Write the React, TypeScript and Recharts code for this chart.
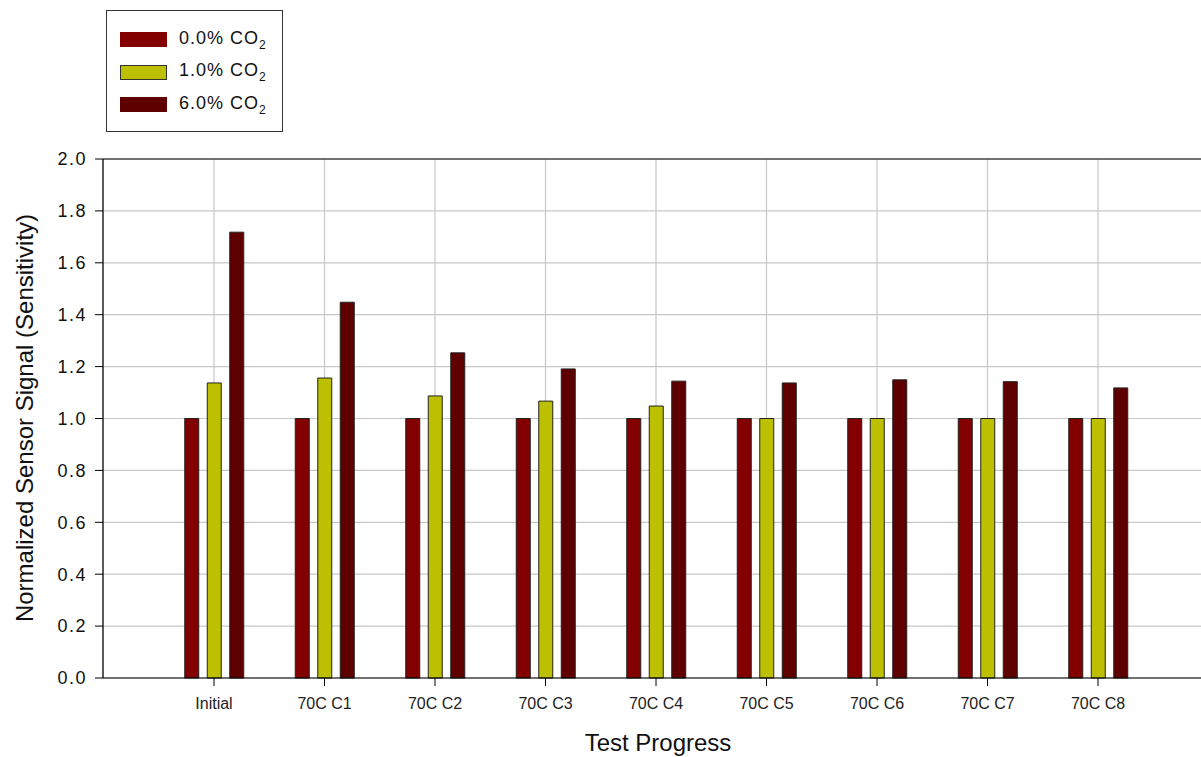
import React from 'react'
import {
  BarChart,
  Bar,
  XAxis,
  YAxis,
  CartesianGrid,
  ReferenceLine,
} from 'recharts'

const categories = [
  'Initial',
  '70C C1',
  '70C C2',
  '70C C3',
  '70C C4',
  '70C C5',
  '70C C6',
  '70C C7',
  '70C C8',
]

// normalized signal per CO2 level
const co2Zero = [1.0, 1.0, 1.0, 1.0, 1.0, 1.0, 1.0, 1.0, 1.0]
const co2One = [1.137, 1.156, 1.087, 1.067, 1.048, 1.0, 1.0, 1.0, 1.0]
const co2Six = [1.718, 1.448, 1.253, 1.191, 1.144, 1.137, 1.149, 1.142, 1.118]

const seriesLabels = ['0.0%', '1.0%', '6.0%']
const yTicks = [0, 0.2, 0.4, 0.6, 0.8, 1.0, 1.2, 1.4, 1.6, 1.8, 2.0]

const FONT = "'Liberation Sans', Arial, sans-serif"

const series = [
  { key: 'zero', label: seriesLabels[0], color: '#820000' },
  { key: 'one', label: seriesLabels[1], color: '#bcc000' },
  { key: 'six', label: seriesLabels[2], color: '#5e0000' },
]

const data = categories.map((name, i) => ({
  name,
  zero: co2Zero[i],
  one: co2One[i],
  six: co2Six[i],
}))

function YTitle() {
  return (
    <text
      x={24}
      y={418}
      transform="rotate(-90 24 418)"
      textAnchor="middle"
      dominantBaseline="central"
      fontSize={24}
      fontFamily={FONT}
      fill="#111"
    >
      Normalized Sensor Signal (Sensitivity)
    </text>
  )
}

function XTitle() {
  return (
    <text x={658} y={751} textAnchor="middle" fontSize={24} fontFamily={FONT} fill="#111">
      Test Progress
    </text>
  )
}

function LegendBox() {
  return (
    <div
      style={{
        position: 'absolute',
        left: 106,
        top: 10,
        width: 177,
        height: 122,
        border: '1px solid #333',
        boxSizing: 'border-box',
        background: '#fff',
        fontFamily: FONT,
      }}
    >
      {series.map((s, i) => (
        <div
          key={s.key}
          style={{
            position: 'absolute',
            left: 13,
            top: 21 + i * 32.5,
            display: 'flex',
            alignItems: 'center',
            height: 15,
          }}
        >
          <div
            style={{
              width: 47,
              height: 15,
              boxSizing: 'border-box',
              background: s.color,
              border: `1px solid ${s.key === 'one' ? '#333' : s.color}`,
            }}
          />
          <span
            style={{
              marginLeft: 12,
              fontSize: 18,
              letterSpacing: 1,
              color: '#111',
              whiteSpace: 'nowrap',
            }}
          >
            {s.label} CO<sub style={{ fontSize: 12, letterSpacing: 0 }}>2</sub>
          </span>
        </div>
      ))}
    </div>
  )
}

export default function App() {
  return (
    <div
      style={{
        position: 'fixed',
        left: 0,
        top: 0,
        width: 1201,
        height: 757,
        overflow: 'hidden',
        background: '#fff',
      }}
    >
      <BarChart
        width={1209}
        height={757}
        data={data}
        margin={{ top: 159, right: 0, bottom: 0, left: 0 }}
        barSize={14}
        barGap={8.5}
      >
        <CartesianGrid stroke="#c8c8c8" strokeWidth={1.2} />
        <XAxis
          dataKey="name"
          height={79}
          padding={{ left: 55.75, right: 55.75 }}
          axisLine={{ stroke: '#000', strokeWidth: 1.2 }}
          tickLine={{ stroke: '#000' }}
          tickSize={8}
          tickMargin={12}
          tick={{ fontSize: 16, fontFamily: FONT, fill: '#222' }}
          interval={0}
          label={<XTitle />}
        />
        <YAxis
          width={103}
          domain={[0, 2]}
          ticks={yTicks}
          tickFormatter={(v: number) => v.toFixed(1)}
          axisLine={{ stroke: '#000', strokeWidth: 1.2 }}
          tickLine={{ stroke: '#000' }}
          tickSize={8}
          tickMargin={8}
          tick={{ fontSize: 18, fontFamily: FONT, fill: '#111', letterSpacing: 1.5 }}
          label={<YTitle />}
        />
        <ReferenceLine y={2} stroke="#000" strokeWidth={1.2} />
        {series.map((s) => (
          <Bar
            key={s.key}
            dataKey={s.key}
            fill={s.color}
            stroke="#222"
            strokeWidth={1}
            isAnimationActive={false}
          />
        ))}
      </BarChart>
      <LegendBox />
    </div>
  )
}
